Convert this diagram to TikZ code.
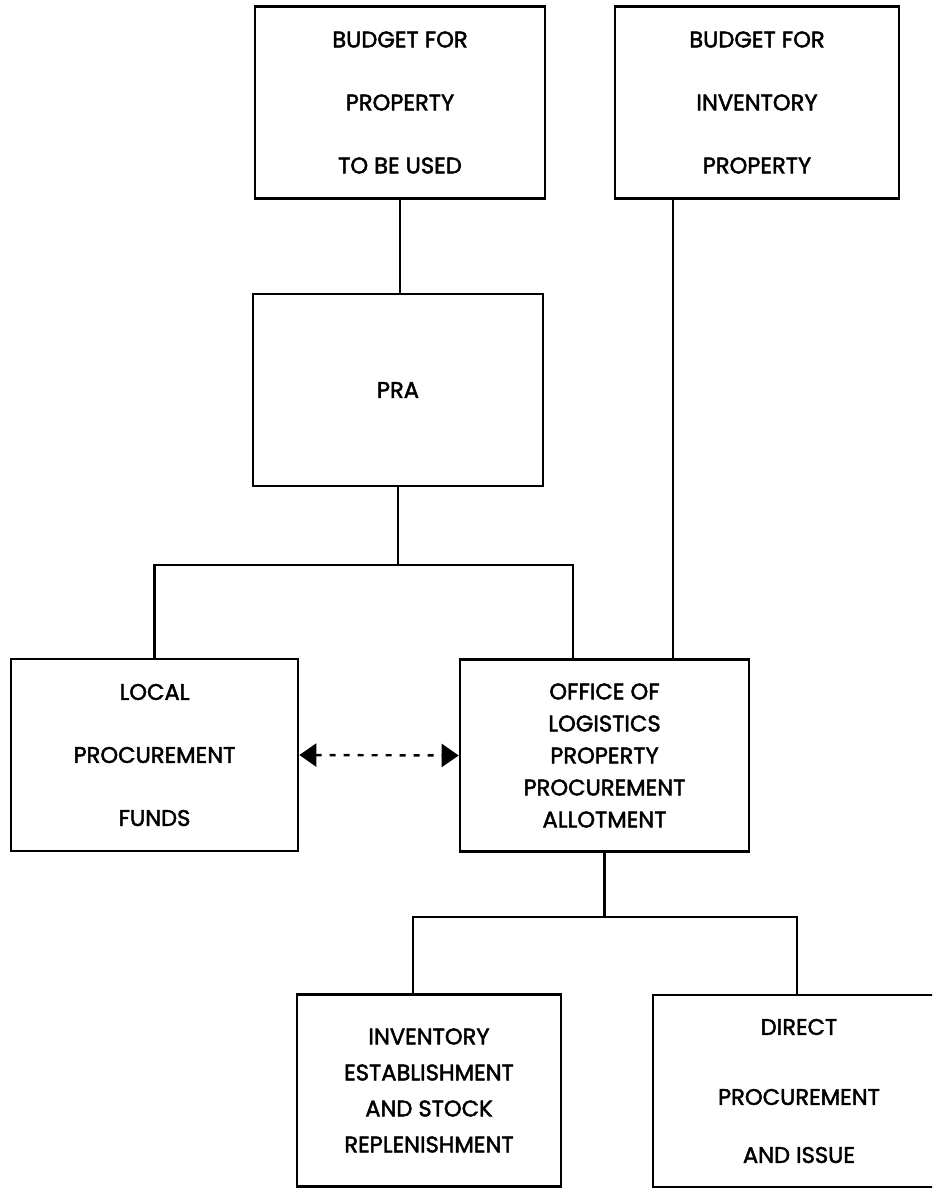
\documentclass[tikz,border=0pt]{standalone}
\usepackage{fontspec}
\setmainfont{Poppins}[FakeBold=2]
\usetikzlibrary{arrows.meta}

\begin{document}
\begin{tikzpicture}[x=0.5pt, y=-0.5pt, line width=1.3pt,
  box/.style={rectangle, draw, minimum width=145pt, minimum height=96pt, align=center, inner sep=0pt, font=\fontsize{11.3}{31.5}\selectfont},
  tight/.style={font=\fontsize{11.3}{16}\selectfont},
  medium/.style={font=\fontsize{11.3}{18}\selectfont},
  link/.style={line width=1.2pt},
  funds/.style={line width=1.2pt, dash pattern=on 3pt off 4pt, {Triangle[length=8.5pt,width=11.5pt]}-{Triangle[length=8.5pt,width=11.5pt]}}]
  \useasboundingbox (0,0) rectangle (932,1188);
  \clip (0,0) rectangle (932,1188);
  \node[box] (bprop) at (400,102.5) {BUDGET FOR\\PROPERTY\\TO BE USED};
  \node[box, minimum width=142pt] (binv) at (757,102.5) {BUDGET FOR\\INVENTORY\\PROPERTY};
  \node[box] (pra) at (398,390) {PRA};
  \node[box, minimum width=143.5pt] (local) at (154.5,755) {LOCAL\\PROCUREMENT\\FUNDS};
  \node[box, tight, minimum width=144.5pt] (olppa) at (604.5,755.5) {OFFICE OF\\LOGISTICS\\PROPERTY\\PROCUREMENT\\ALLOTMENT};
  \node[box, medium, minimum width=132pt] (inv) at (429,1090.5) {INVENTORY\\ESTABLISHMENT\\AND STOCK\\REPLENISHMENT};
  \node[box, minimum width=146pt, font=\fontsize{11.3}{29}\selectfont] (direct) at (799,1091) {DIRECT\\[6pt]PROCUREMENT\\AND ISSUE};
  \coordinate (invline) at (673,0);
  \coordinate (fork1) at (398,565);
  \coordinate (fork1r) at (573,565);
  \coordinate (fork2l) at (413,917);
  \coordinate (fork2r) at (797,917);
  \draw[link] (bprop.south) -- (bprop.south |- pra.north);
  \draw[link] (binv.south -| invline) -- (olppa.north -| invline);
  \draw[link] (pra.south) -- (fork1);
  \draw[link] (local.north) |- (fork1r) -- (fork1r |- olppa.north);
  \draw[funds] (local.east) -- (olppa.west);
  \draw[link] (olppa.south) -- (olppa.south |- fork2l);
  \draw[link] (fork2l |- inv.north) -- (fork2l) -- (fork2r) -- (fork2r |- direct.north);
\end{tikzpicture}
\end{document}
